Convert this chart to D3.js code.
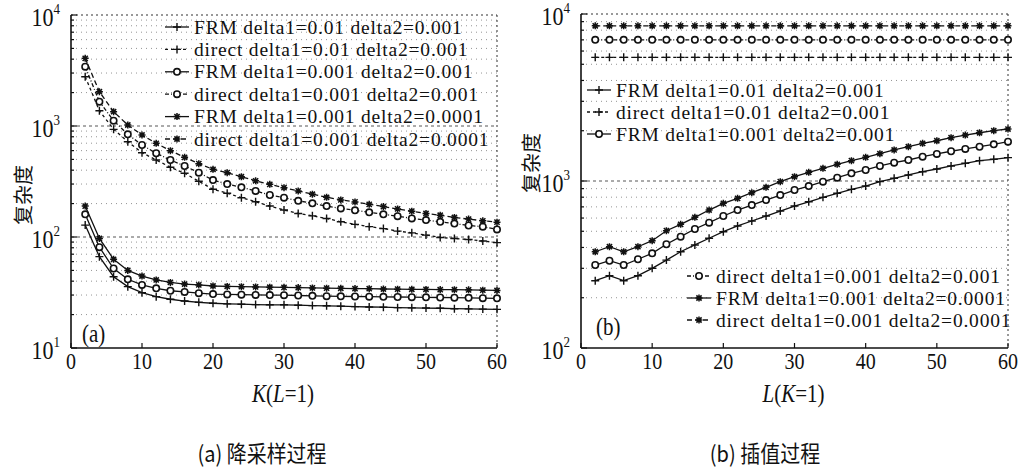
<!DOCTYPE html>
<html>
<head>
<meta charset="utf-8">
<script src="https://d3js.org/d3.v7.min.js"></script>
<style>
  body { margin: 0; background: #fff; }
  svg { display: block; }
</style>
</head>
<body>
<svg id="chart"></svg>
<script>
// x positions (K or L), every 2
const steps = [2, 4, 6, 8, 10, 12, 14, 16, 18, 20, 22, 24, 26, 28, 30,
               32, 34, 36, 38, 40, 42, 44, 46, 48, 50, 52, 54, 56, 58, 60];

// (a) down-sampling, values
const aFrm1 = [128, 66.5, 43.9, 35.7, 31.5, 29, 27.5, 26.5, 25.8, 25.3, 25, 24.8, 24.6, 24.5, 24.5,
               24.3, 24.1, 24, 23.8, 23.6, 23.4, 23.3, 23.1, 23, 22.9, 22.8, 22.6, 22.5, 22.4, 22.3];
const aDir1 = [2780, 1373, 933, 722, 575, 494, 425, 375, 318, 269, 248, 226, 208, 190, 175,
               163, 155, 147, 137, 130, 124, 119, 113, 109, 104, 99, 97, 95, 92, 89];
const aFrm2 = [160, 81, 52, 41.6, 37, 34.5, 32.8, 32, 31.2, 30.6, 30.4, 30.2, 30.1, 30, 29.9,
               29.7, 29.5, 29.3, 29.2, 29.1, 29, 28.9, 28.8, 28.7, 28.6, 28.5, 28.4, 28.3, 28.1, 28];
const aDir2 = [3423, 1656, 1116, 842, 674, 568, 494, 436, 380, 326, 300, 280, 260, 239, 226,
               212, 201, 190, 181, 174, 167, 160, 154, 147, 142, 137, 132, 127, 124, 117];
const aFrm3 = [190, 97, 63, 50, 44.5, 41, 39, 37.7, 37, 36.2, 35.9, 35.7, 35.5, 35.3, 35.2,
               35, 34.8, 34.6, 34.5, 34.3, 34.2, 34, 33.9, 33.8, 33.7, 33.6, 33.5, 33.4, 33.2, 33];
const aDir3 = [4070, 2037, 1345, 1021, 830, 698, 600, 522, 458, 407, 380, 349, 321, 298, 278,
               260, 243, 228, 216, 207, 197, 188, 179, 171, 163, 157, 150, 145, 140, 136];

// (b) interpolation
const bFrm1 = [253, 271, 253, 271, 300, 336, 377, 414, 454, 497, 538, 576, 617, 661, 708,
               751, 798, 844, 891, 933, 991, 1038, 1087, 1137, 1180, 1230, 1276, 1324, 1349, 1380];
const bDir1 = [5500, 5500, 5500, 5500, 5500, 5500, 5500, 5500, 5500, 5500, 5500, 5500, 5500, 5500, 5500,
               5500, 5500, 5500, 5500, 5500, 5500, 5500, 5500, 5500, 5500, 5500, 5500, 5500, 5500, 5500];
const bFrm2 = [314, 333, 314, 340, 369, 418, 464, 516, 563, 617, 670, 718, 769, 824, 883,
               933, 991, 1047, 1112, 1164, 1230, 1288, 1336, 1399, 1452, 1507, 1556, 1604, 1658, 1720];
const bDir2 = [7000, 7000, 7000, 7000, 7000, 7000, 7000, 7000, 7000, 7000, 7000, 7000, 7000, 7000, 7000,
               7000, 7000, 7000, 7000, 7000, 7000, 7000, 7000, 7000, 7000, 7000, 7000, 7000, 7000, 7000];
const bFrm3 = [377, 404, 377, 404, 439, 504, 550, 606, 670, 735, 787, 851, 917, 991, 1061,
               1128, 1191, 1259, 1324, 1387, 1457, 1534, 1604, 1681, 1742, 1816, 1885, 1945, 2000, 2048];
const bDir3 = [8500, 8500, 8500, 8500, 8500, 8500, 8500, 8500, 8500, 8500, 8500, 8500, 8500, 8500, 8500,
               8500, 8500, 8500, 8500, 8500, 8500, 8500, 8500, 8500, 8500, 8500, 8500, 8500, 8500, 8500];

const seriesNames = [
  "FRM delta1=0.01 delta2=0.001",
  "direct delta1=0.01 delta2=0.001",
  "FRM delta1=0.001 delta2=0.001",
  "direct delta1=0.001 delta2=0.001",
  "FRM delta1=0.001 delta2=0.0001",
  "direct delta1=0.001 delta2=0.0001"
];
const xTicks = [0, 10, 20, 30, 40, 50, 60];

const width = 1020, height = 471;
const svg = d3.select("#chart").attr("width", width).attr("height", height);
svg.append("rect").attr("width", width).attr("height", height).attr("fill", "#fff");

// styles per series (same order as seriesNames)
const styles = [
  { mark: "plus",   dash: null },
  { mark: "plus",   dash: "3,3" },
  { mark: "circle", dash: null },
  { mark: "circle", dash: "4,2,1,2" },
  { mark: "star",   dash: null },
  { mark: "star",   dash: "5,3" }
];

const serif = "'Liberation Serif', 'Times New Roman', serif";
const cjk = "'Noto Sans CJK SC', sans-serif";

function drawMarker(g, type) {
  if (type === "plus") {
    g.append("path").attr("d", "M-4,0H4M0,-4V4")
      .attr("stroke", "#111").attr("stroke-width", 1.4).attr("fill", "none");
  } else if (type === "circle") {
    g.append("circle").attr("r", 3.2)
      .attr("fill", "#fff").attr("stroke", "#111").attr("stroke-width", 1.6);
  } else {
    g.append("path").attr("d", "M-3.5,0H3.5M0,-3.5V3.5M-2.6,-2.6L2.6,2.6M-2.6,2.6L2.6,-2.6")
      .attr("stroke", "#111").attr("stroke-width", 1.5).attr("fill", "none");
  }
}

// scanned text looks a bit taller than wide, so stretch vertically
function stretchedText(parent, x, y, txt, size, opts = {}) {
  const t = parent.append("text")
    .attr("transform", `translate(${x},${y}) scale(1,${opts.stretch || 1.15})`)
    .attr("font-family", opts.family || serif)
    .attr("font-size", size)
    .attr("text-anchor", opts.anchor || "start")
    .attr("dominant-baseline", "central")
    .attr("fill", "#111");
  if (txt !== null) t.text(txt);
  return t;
}

function panel(cfg) {
  const g = svg.append("g");
  const x = d3.scaleLinear().domain([0, 60]).range([cfg.left, cfg.right]);
  const y = d3.scaleLog().domain(cfg.yDomain).range([cfg.bottom, cfg.top]);

  // dotted horizontal grid at log minor/major ticks
  const gridVals = y.ticks().filter(v => v > cfg.yDomain[0] && v < cfg.yDomain[1]);
  g.append("g").selectAll("line").data(gridVals).join("line")
    .attr("x1", cfg.left).attr("x2", cfg.right)
    .attr("y1", d => y(d)).attr("y2", d => y(d))
    .attr("stroke", d => Math.log10(d) % 1 === 0 ? "#444" : "#888")
    .attr("stroke-width", 0.9)
    .attr("stroke-dasharray", d => Math.log10(d) % 1 === 0 ? "3,3" : "1,4");

  // dotted top and right borders
  g.append("line").attr("x1", cfg.left).attr("x2", cfg.right).attr("y1", cfg.top).attr("y2", cfg.top)
    .attr("stroke", "#333").attr("stroke-dasharray", "2,3");
  g.append("line").attr("x1", cfg.right).attr("x2", cfg.right).attr("y1", cfg.top).attr("y2", cfg.bottom)
    .attr("stroke", "#333").attr("stroke-dasharray", "2,3");

  // series
  const line = d3.line().x(d => x(d[0])).y(d => y(d[1]));
  cfg.series.forEach((vals, i) => {
    const pts = steps.map((s, j) => [s, vals[j]]);
    g.append("path").datum(pts).attr("d", line)
      .attr("fill", "none").attr("stroke", "#111").attr("stroke-width", 1.3)
      .attr("stroke-dasharray", styles[i].dash);
    g.append("g").selectAll("g").data(pts).join("g")
      .attr("transform", d => `translate(${x(d[0])},${y(d[1])})`)
      .each(function () { drawMarker(d3.select(this), styles[i].mark); });
  });

  // axes: left and bottom solid
  g.append("line").attr("x1", cfg.left).attr("x2", cfg.left).attr("y1", cfg.top).attr("y2", cfg.bottom)
    .attr("stroke", "#111").attr("stroke-width", 1.6);
  g.append("line").attr("x1", cfg.left).attr("x2", cfg.right).attr("y1", cfg.bottom).attr("y2", cfg.bottom)
    .attr("stroke", "#111").attr("stroke-width", 1.6);

  // x ticks (inward) and labels
  g.append("g").selectAll("line").data(xTicks).join("line")
    .attr("x1", d => x(d)).attr("x2", d => x(d))
    .attr("y1", cfg.bottom).attr("y2", cfg.bottom - 5)
    .attr("stroke", "#111").attr("stroke-width", 1.2);
  xTicks.forEach(t => stretchedText(g, x(t), 362, String(t), 20, { anchor: "middle" }));

  // y ticks (inward), minor shorter
  g.append("g").selectAll("line").data(y.ticks()).join("line")
    .attr("x1", cfg.left).attr("x2", d => cfg.left + (Math.log10(d) % 1 === 0 ? 6 : 3))
    .attr("y1", d => y(d)).attr("y2", d => y(d))
    .attr("stroke", "#111").attr("stroke-width", 1.2);
  const decades = y.ticks().filter(v => Math.log10(v) % 1 === 0);
  decades.forEach(v => {
    const t = stretchedText(g, cfg.left - 11, y(v) + 2, null, 22, { anchor: "end" });
    t.append("tspan").text("10");
    t.append("tspan").attr("font-size", 13).attr("dy", -7).text(String(Math.log10(v)));
  });

  // y title
  g.append("text")
    .attr("transform", `translate(${cfg.titleX},${cfg.titleY}) rotate(-90)`)
    .attr("font-family", cjk).attr("font-size", 20)
    .attr("text-anchor", "middle").attr("dominant-baseline", "central")
    .attr("fill", "#111").text("复杂度");

  // x title, e.g. K(L=1)
  const xt = stretchedText(g, (cfg.left + cfg.right) / 2 - 1, 393, null, 21, { anchor: "middle" });
  xt.append("tspan").attr("font-style", "italic").text(cfg.xVar);
  xt.append("tspan").text("(");
  xt.append("tspan").attr("font-style", "italic").text(cfg.xOther);
  xt.append("tspan").text("=1)");

  // panel tag
  stretchedText(g, cfg.tagX, cfg.tagY, cfg.tag, 21);

  // legend groups
  cfg.legend.forEach(grp => {
    grp.items.forEach((idx, k) => {
      const ly = grp.y + k * grp.gap;
      g.append("line").attr("x1", grp.x).attr("x2", grp.x + 24)
        .attr("y1", ly).attr("y2", ly)
        .attr("stroke", "#111").attr("stroke-width", 1.3)
        .attr("stroke-dasharray", styles[idx].dash);
      drawMarker(g.append("g").attr("transform", `translate(${grp.x + 12},${ly})`), styles[idx].mark);
      stretchedText(g, grp.x + 29, ly, seriesNames[idx], 19.5, { stretch: 1.0 })
        .attr("letter-spacing", 0.8);
    });
  });

  // caption
  stretchedText(g, cfg.capX, 452, cfg.caption, 20, { family: cjk, anchor: "middle", stretch: 1.12 });
}

panel({
  left: 71, right: 497, top: 15, bottom: 348,
  yDomain: [10, 10000],
  series: [aFrm1, aDir1, aFrm2, aDir2, aFrm3, aDir3],
  titleX: 22, titleY: 195,
  xVar: "K", xOther: "L",
  tag: "(a)", tagX: 82, tagY: 334,
  legend: [{ x: 165, y: 27, gap: 22.4, items: [0, 1, 2, 3, 4, 5] }],
  caption: "(a) 降采样过程", capX: 262
});

panel({
  left: 581, right: 1008, top: 14, bottom: 348,
  yDomain: [100, 10000],
  series: [bFrm1, bDir1, bFrm2, bDir2, bFrm3, bDir3],
  titleX: 530, titleY: 163,
  xVar: "L", xOther: "K",
  tag: "(b)", tagX: 596, tagY: 327,
  legend: [
    { x: 587, y: 90, gap: 22, items: [0, 1, 2] },
    { x: 687, y: 276, gap: 22, items: [3, 4, 5] }
  ],
  caption: "(b) 插值过程", capX: 765
});
</script>
</body>
</html>
